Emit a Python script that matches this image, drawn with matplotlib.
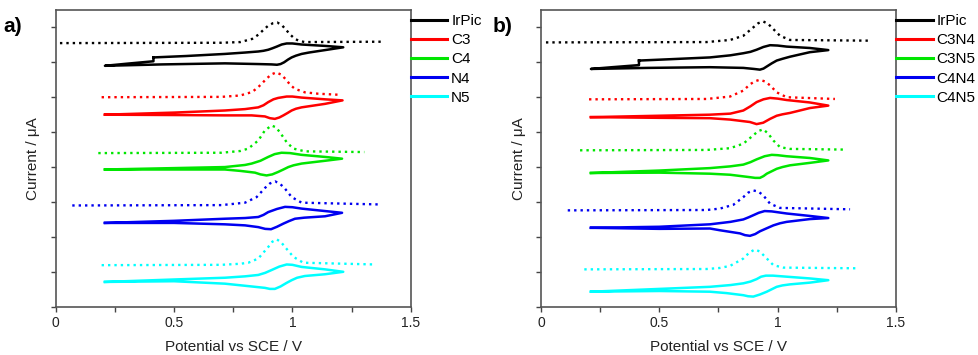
import matplotlib
matplotlib.use('Agg')
import matplotlib.pyplot as plt
from matplotlib.ticker import MultipleLocator, FuncFormatter, NullFormatter

plt.rcParams['font.family'] = ['Liberation Sans', 'DejaVu Sans']

# ---- panel a) ----
labels_a = ['IrPic', 'C3', 'C4', 'N4', 'N5']

irpic_a_dpv_x = [0.018, 0.70, 0.78, 0.83, 0.856, 0.878, 0.898, 0.918, 0.936, 0.955, 0.976, 0.993, 1.011, 1.03, 1.053, 1.377]
irpic_a_dpv_y = [7.55, 7.56, 7.58, 7.67, 7.79, 7.93, 8.05, 8.12, 8.14, 8.07, 7.91, 7.78, 7.67, 7.61, 7.58, 7.59]
irpic_a_cv_x = [0.413, 0.55, 0.715, 0.80, 0.856, 0.878, 0.898, 0.915, 0.934, 0.955, 0.976, 1.00, 1.039, 1.138, 1.215,
                1.138, 1.07, 1.039, 1.015, 0.997, 0.982, 0.965, 0.950, 0.935, 0.912, 0.856, 0.715, 0.45, 0.208,
                0.30, 0.413, 0.413]
irpic_a_cv_y = [7.14, 7.18, 7.24, 7.28, 7.31, 7.33, 7.36, 7.40, 7.45, 7.51, 7.54, 7.54, 7.51, 7.47, 7.43,
                7.35, 7.28, 7.24, 7.19, 7.14, 7.08, 7.00, 6.95, 6.93, 6.94, 6.95, 6.97, 6.94, 6.90,
                6.96, 7.03, 7.14]

c3_a_dpv_x = [0.194, 0.70, 0.78, 0.83, 0.856, 0.891, 0.91, 0.932, 0.955, 0.976, 0.993, 1.011, 1.053, 1.11, 1.199]
c3_a_dpv_y = [6.00, 6.01, 6.05, 6.15, 6.29, 6.53, 6.65, 6.71, 6.64, 6.48, 6.34, 6.24, 6.14, 6.10, 6.07]
c3_a_cv_x = [0.208, 0.50, 0.715, 0.80, 0.856, 0.878, 0.898, 0.92, 0.94, 0.976, 1.00, 1.039, 1.138, 1.212,
             1.138, 1.039, 1.015, 0.997, 0.98, 0.962, 0.945, 0.926, 0.905, 0.884, 0.828, 0.715, 0.50, 0.208]
c3_a_cv_y = [5.50, 5.56, 5.62, 5.66, 5.71, 5.77, 5.86, 5.94, 5.98, 6.02, 6.02, 5.99, 5.94, 5.91,
             5.81, 5.71, 5.67, 5.62, 5.55, 5.48, 5.42, 5.38, 5.40, 5.45, 5.48, 5.48, 5.49, 5.50]

c4_a_dpv_x = [0.18, 0.70, 0.78, 0.814, 0.856, 0.884, 0.912, 0.93, 0.947, 0.976, 1.004, 1.053, 1.304]
c4_a_dpv_y = [4.40, 4.41, 4.46, 4.53, 4.76, 5.05, 5.19, 5.14, 5.00, 4.71, 4.53, 4.45, 4.43]
c4_a_cv_x = [0.208, 0.50, 0.715, 0.80, 0.828, 0.865, 0.898, 0.925, 0.954, 0.99, 1.039, 1.138, 1.21,
             1.138, 1.039, 1.005, 0.983, 0.962, 0.94, 0.915, 0.891, 0.865, 0.842, 0.78, 0.715, 0.50, 0.208]
c4_a_cv_y = [3.93, 3.97, 4.00, 4.06, 4.10, 4.18, 4.29, 4.37, 4.41, 4.40, 4.35, 4.29, 4.24,
             4.18, 4.10, 4.05, 4.00, 3.93, 3.86, 3.79, 3.76, 3.79, 3.84, 3.89, 3.93, 3.93, 3.93]

n4_a_dpv_x = [0.07, 0.70, 0.80, 0.849, 0.884, 0.905, 0.927, 0.948, 0.969, 0.997, 1.039, 1.363]
n4_a_dpv_y = [2.90, 2.91, 2.98, 3.14, 3.40, 3.53, 3.59, 3.52, 3.38, 3.14, 2.98, 2.93]
n4_a_cv_x = [0.208, 0.50, 0.715, 0.80, 0.856, 0.878, 0.898, 0.935, 0.969, 1.00, 1.039, 1.138, 1.21,
             1.138, 1.05, 1.011, 0.985, 0.962, 0.935, 0.910, 0.885, 0.856, 0.80, 0.715, 0.50, 0.208]
n4_a_cv_y = [2.40, 2.46, 2.52, 2.54, 2.57, 2.63, 2.71, 2.80, 2.86, 2.85, 2.81, 2.74, 2.69,
             2.59, 2.55, 2.52, 2.45, 2.38, 2.29, 2.22, 2.23, 2.28, 2.33, 2.36, 2.40, 2.40]

n5_a_dpv_x = [0.194, 0.70, 0.78, 0.814, 0.856, 0.898, 0.915, 0.934, 0.952, 0.969, 1.004, 1.046, 1.349]
n5_a_dpv_y = [1.19, 1.20, 1.23, 1.26, 1.38, 1.71, 1.86, 1.93, 1.85, 1.71, 1.43, 1.26, 1.21]
n5_a_cv_x = [0.208, 0.50, 0.715, 0.80, 0.856, 0.885, 0.912, 0.945, 0.976, 1.00, 1.039, 1.138, 1.215,
             1.138, 1.053, 1.02, 0.997, 0.975, 0.95, 0.926, 0.905, 0.884, 0.80, 0.715, 0.50, 0.208]
n5_a_cv_y = [0.71, 0.78, 0.83, 0.87, 0.91, 0.97, 1.05, 1.15, 1.21, 1.20, 1.14, 1.07, 1.00,
             0.93, 0.88, 0.83, 0.76, 0.68, 0.58, 0.51, 0.51, 0.54, 0.60, 0.66, 0.73, 0.71]

# ---- panel b) ----
labels_b = ['IrPic', 'C3N4', 'C3N5', 'C4N4', 'C4N5']

irpic_b_dpv_x = [0.021, 0.70, 0.799, 0.855, 0.897, 0.918, 0.939, 0.96, 0.982, 1.01, 1.052, 1.387]
irpic_b_dpv_y = [7.57, 7.58, 7.64, 7.76, 8.00, 8.12, 8.17, 8.10, 7.95, 7.76, 7.64, 7.62]
irpic_b_cv_x = [0.414, 0.55, 0.714, 0.80, 0.855, 0.885, 0.911, 0.94, 0.968, 1.00, 1.038, 1.136, 1.214,
                1.136, 1.052, 1.02, 0.996, 0.975, 0.954, 0.94, 0.925, 0.90, 0.855, 0.714, 0.45, 0.211,
                0.30, 0.414, 0.414]
irpic_b_cv_y = [7.05, 7.09, 7.14, 7.20, 7.26, 7.30, 7.36, 7.44, 7.49, 7.48, 7.45, 7.41, 7.35,
                7.29, 7.16, 7.10, 7.05, 6.97, 6.88, 6.82, 6.79, 6.81, 6.84, 6.86, 6.84, 6.81,
                6.86, 6.92, 7.05]

c3n4_b_dpv_x = [0.203, 0.70, 0.799, 0.855, 0.883, 0.905, 0.925, 0.947, 0.968, 0.996, 1.038, 1.242]
c3n4_b_dpv_y = [5.94, 5.95, 6.02, 6.19, 6.37, 6.46, 6.50, 6.45, 6.34, 6.14, 6.00, 5.95]
c3n4_b_cv_x = [0.211, 0.50, 0.714, 0.80, 0.855, 0.885, 0.911, 0.94, 0.968, 1.00, 1.038, 1.136, 1.214,
               1.136, 1.052, 1.02, 0.996, 0.968, 0.939, 0.911, 0.883, 0.799, 0.714, 0.50, 0.211]
c3n4_b_cv_y = [5.43, 5.47, 5.50, 5.53, 5.62, 5.74, 5.86, 5.94, 5.98, 5.96, 5.92, 5.85, 5.76,
               5.69, 5.55, 5.51, 5.47, 5.38, 5.27, 5.23, 5.29, 5.36, 5.40, 5.41, 5.43]

c3n5_b_dpv_x = [0.165, 0.70, 0.799, 0.855, 0.897, 0.918, 0.939, 0.96, 0.982, 1.01, 1.052, 1.289]
c3n5_b_dpv_y = [4.48, 4.49, 4.54, 4.67, 4.91, 5.03, 5.08, 4.96, 4.76, 4.57, 4.52, 4.50]
c3n5_b_cv_x = [0.211, 0.50, 0.714, 0.80, 0.855, 0.885, 0.911, 0.945, 0.975, 1.00, 1.038, 1.136, 1.214,
               1.136, 1.052, 1.02, 0.996, 0.975, 0.954, 0.94, 0.925, 0.905, 0.883, 0.799, 0.714, 0.50, 0.211]
c3n5_b_cv_y = [3.83, 3.90, 3.97, 4.02, 4.07, 4.14, 4.22, 4.31, 4.35, 4.34, 4.31, 4.26, 4.19,
               4.12, 4.05, 4.00, 3.95, 3.88, 3.81, 3.74, 3.69, 3.69, 3.71, 3.78, 3.81, 3.84, 3.83]

c4n4_b_dpv_x = [0.113, 0.70, 0.756, 0.813, 0.855, 0.876, 0.897, 0.918, 0.939, 0.968, 1.01, 1.306]
c4n4_b_dpv_y = [2.76, 2.77, 2.81, 2.92, 3.14, 3.27, 3.33, 3.30, 3.19, 2.95, 2.83, 2.79]
c4n4_b_cv_x = [0.211, 0.50, 0.714, 0.80, 0.855, 0.877, 0.897, 0.92, 0.945, 0.975, 1.038, 1.136, 1.214,
               1.136, 1.038, 1.01, 0.982, 0.955, 0.925, 0.905, 0.883, 0.862, 0.841, 0.756, 0.714, 0.50, 0.211]
c4n4_b_cv_y = [2.26, 2.29, 2.36, 2.43, 2.50, 2.56, 2.62, 2.69, 2.74, 2.73, 2.67, 2.60, 2.54,
               2.51, 2.43, 2.39, 2.33, 2.25, 2.16, 2.08, 2.03, 2.05, 2.10, 2.19, 2.24, 2.23, 2.26]

c4n5_b_dpv_x = [0.183, 0.70, 0.756, 0.799, 0.855, 0.88, 0.904, 0.925, 0.947, 0.982, 1.024, 1.345]
c4n5_b_dpv_y = [1.07, 1.08, 1.11, 1.17, 1.38, 1.55, 1.64, 1.58, 1.43, 1.19, 1.12, 1.10]
c4n5_b_cv_x = [0.211, 0.50, 0.714, 0.80, 0.855, 0.885, 0.911, 0.93, 0.95, 0.98, 1.038, 1.136, 1.214,
               1.136, 1.052, 1.02, 0.996, 0.975, 0.954, 0.925, 0.897, 0.875, 0.855, 0.784, 0.714, 0.50, 0.211]
c4n5_b_cv_y = [0.43, 0.51, 0.57, 0.62, 0.67, 0.72, 0.79, 0.86, 0.89, 0.89, 0.86, 0.81, 0.76,
               0.69, 0.64, 0.61, 0.57, 0.50, 0.43, 0.35, 0.29, 0.30, 0.33, 0.39, 0.43, 0.45, 0.43]

colors = ['black', '#ff0000', '#00e600', '#0000f0', '#00ffff']

panel_a = [(irpic_a_dpv_x, irpic_a_dpv_y, irpic_a_cv_x, irpic_a_cv_y),
           (c3_a_dpv_x, c3_a_dpv_y, c3_a_cv_x, c3_a_cv_y),
           (c4_a_dpv_x, c4_a_dpv_y, c4_a_cv_x, c4_a_cv_y),
           (n4_a_dpv_x, n4_a_dpv_y, n4_a_cv_x, n4_a_cv_y),
           (n5_a_dpv_x, n5_a_dpv_y, n5_a_cv_x, n5_a_cv_y)]
panel_b = [(irpic_b_dpv_x, irpic_b_dpv_y, irpic_b_cv_x, irpic_b_cv_y),
           (c3n4_b_dpv_x, c3n4_b_dpv_y, c3n4_b_cv_x, c3n4_b_cv_y),
           (c3n5_b_dpv_x, c3n5_b_dpv_y, c3n5_b_cv_x, c3n5_b_cv_y),
           (c4n4_b_dpv_x, c4n4_b_dpv_y, c4n4_b_cv_x, c4n4_b_cv_y),
           (c4n5_b_dpv_x, c4n5_b_dpv_y, c4n5_b_cv_x, c4n5_b_cv_y)]


def draw_panel(ax, series, labels):
    handles = []
    for (dx, dy, cx, cy), col, lab in zip(series, colors, labels):
        ax.plot(dx, dy, color=col, lw=1.7, linestyle=(0, (1, 1.7)))
        h, = ax.plot(cx, cy, color=col, lw=1.8, label=lab, solid_joinstyle='round')
        handles.append(h)
    ax.set_xlim(0, 1.5)
    ax.set_ylim(0, 8.5)
    ax.xaxis.set_major_locator(MultipleLocator(0.5))
    ax.xaxis.set_minor_locator(MultipleLocator(0.25))
    ax.xaxis.set_major_formatter(FuncFormatter(lambda v, p: '%g' % v))
    ax.yaxis.set_major_locator(MultipleLocator(1))
    ax.yaxis.set_major_formatter(NullFormatter())
    ax.tick_params(which='both', direction='out', length=3.5, width=1.0,
                   color='#444444', labelsize=10, labelcolor='#222222')
    for s in ax.spines.values():
        s.set_color('#555555')
        s.set_linewidth(1.2)
    ax.set_xlabel('Potential vs SCE / V', fontsize=11, color='#222222', labelpad=7)
    ax.set_ylabel('Current / \u03bcA', fontsize=11, color='#222222', labelpad=4)
    leg = ax.legend(handles=handles, loc='upper left', bbox_to_anchor=(1.0, 0.985),
                    frameon=False, fontsize=11, borderpad=0, borderaxespad=0,
                    handlelength=2.4, handletextpad=0.25, labelspacing=0.33)
    for line in leg.get_lines():
        line.set_linewidth(2.2)


fig = plt.figure(figsize=(9.79, 3.55), dpi=100)
ax1 = fig.add_axes([0.0569, 0.136, 0.3626, 0.836])
ax2 = fig.add_axes([0.5526, 0.136, 0.3626, 0.836])
draw_panel(ax1, panel_a, labels_a)
draw_panel(ax2, panel_b, labels_b)

fig.text(0.003, 1 - 27 / 355, 'a)', fontsize=15, fontweight='bold', va='center')
fig.text(0.5035, 1 - 27 / 355, 'b)', fontsize=15, fontweight='bold', va='center')

fig.savefig('out.png', dpi=100)
